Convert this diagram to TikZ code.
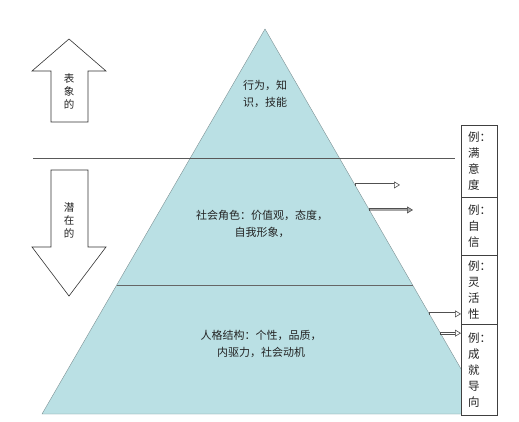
\documentclass[tikz,border=0pt]{standalone}
\usepackage{fontspec}
\setmainfont{Noto Sans CJK SC}
\usetikzlibrary{calc,arrows.meta,decorations.markings}
\definecolor{pyrfill}{RGB}{186,224,228}
\definecolor{pyredge}{RGB}{125,145,148}
\definecolor{inkgray}{RGB}{35,35,35}
\definecolor{tipgray}{RGB}{80,80,80}

\begin{document}
\begin{tikzpicture}[x=1pt,y=-1pt,
  layertext/.style={text=inkgray, font=\fontsize{11}{17}\selectfont, align=center},
  sidetext/.style={text=inkgray, font=\fontsize{10.5}{13}\selectfont, align=center},
  examplebox/.style={draw=black!75, fill=white, anchor=north west, minimum width=36pt,
    text width=22pt, inner sep=0pt, align=left, text=inkgray,
    font=\fontsize{11.5}{16}\selectfont},
  shaft/.style={draw=tipgray, line width=3pt, shorten >=4pt},
  shaftcore/.style={draw=#1, line width=1.3pt, shorten >=4pt, shorten <=0.8pt},
  shaftcore/.default=white,
  pointer/.style={draw=tipgray, line width=0.6pt,
    -{Triangle[length=6pt,width=7pt,fill=#1]}},
  pointer/.default=white,
  blockarrow/.style={draw=black!80, fill=white, line width=0.6pt}]
\useasboundingbox (0,0) rectangle (519,421);

% Pyramid
\coordinate (apex) at (265,29);
\coordinate (bl) at (42,414);
\coordinate (br) at (487,414);
\draw[pyredge, fill=pyrfill] (apex) -- (bl) -- (br) -- cycle;

% layer border inside the pyramid
\coordinate (cutl) at ($(apex)!0.665!(bl)$);
\coordinate (cutr) at ($(apex)!0.665!(br)$);
\draw[black!60] (cutl) -- (cutr);

% surface / latent line
\coordinate (lineL) at (33,158);
\coordinate (lineR) at (455,158);
\draw[black!65] (lineL) -- (lineR);

% Layer labels
\node[layertext] (skill) at (265,94) {行为，知\\识，技能};
\node[layertext] (role) at (262,224) {社会角色：价值观，态度，\\自我形象，};
\node[layertext] (trait) at (261,344) {人格结构：个性，品质，\\内驱力，社会动机};

% Example boxes
\node[examplebox, minimum height=72pt] (ex1) at (461,125) {例：\\满\\意\\度};
\node[examplebox, minimum height=58pt] (ex2) at (461,197) {例：\\自\\信};
\node[examplebox, minimum height=69pt] (ex3) at (461,255) {例：\\灵\\活\\性};
\node[examplebox, minimum height=91pt] (ex4) at (461,324) {例：\\成\\就\\导\\向};

% Pointers from the pyramid side
\coordinate (p1) at ($(apex)!0.405!(br)$);
\coordinate (p2) at ($(apex)!0.470!(br)$);
\coordinate (p3) at ($(apex)!0.740!(br)$);
\coordinate (p4) at ($(apex)!0.790!(br)$);
\coordinate (q1) at (400,185);
\coordinate (q2) at (413,210);
\coordinate (q3) at (p3 -| ex3.west);
\coordinate (q4) at (p4 -| ex4.west);
\coordinate (q1) at (p1 -| q1);
\coordinate (q2) at (p2 -| q2);
\foreach \i/\core in {1/white,2/black!35,3/white,4/white} {
  \draw[shaft] (p\i) -- (q\i);
  \draw[shaftcore=\core] (p\i) -- (q\i);
  \draw[pointer=\core] ($(q\i)+(-6,0)$) -- (q\i);
}

% Surface arrow (up) and latent arrow (down)
\draw[blockarrow] (69,39) -- (106,71) -- (88,71) -- (88,122) -- (51,122)
  -- (51,71) -- (32,71) -- cycle;
\node[sidetext] (surface) at (69,91) {表\\象\\的};
\draw[blockarrow] (51,170) -- (88,170) -- (88,247) -- (106,247) -- (69,296)
  -- (32,247) -- (51,247) -- cycle;
\node[sidetext] (latent) at (69,220) {潜\\在\\的};
\end{tikzpicture}
\end{document}
